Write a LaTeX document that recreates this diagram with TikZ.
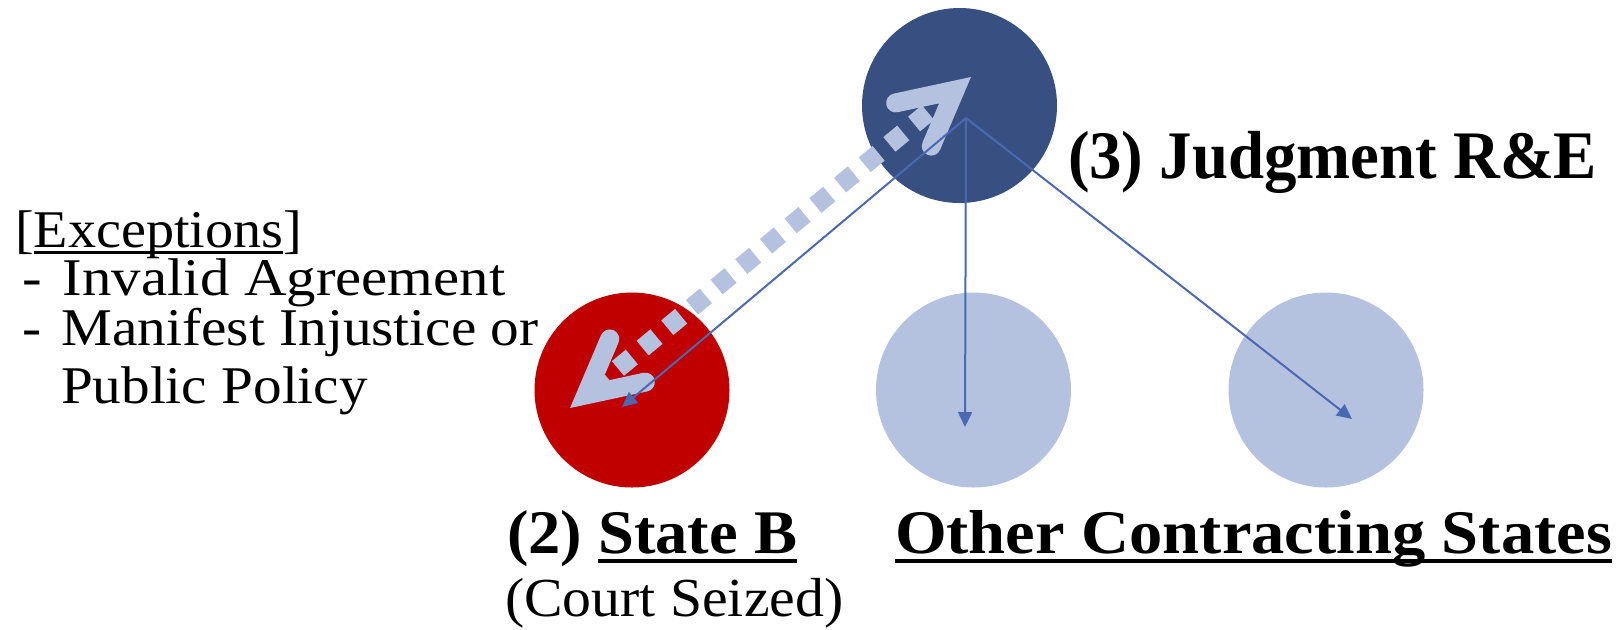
\documentclass[tikz,border=0pt]{standalone}
\usepackage{fontspec}
\setmainfont{Liberation Serif}
\usetikzlibrary{arrows.meta,calc}

\definecolor{navy}{HTML}{384F82}
\definecolor{seized}{HTML}{C00000}
\definecolor{pale}{HTML}{B4C2E0}
\definecolor{link}{HTML}{4A69B2}

% text with a rule drawn under it: #1 raise of the rule, #2 rule thickness, #3 text
\newcommand\rulebelow[3]{\setbox0\hbox{#3}\rlap{\rule[#1]{\wd0}{#2}}\box0}

\begin{document}
\begin{tikzpicture}[x=0.5pt,y=-0.5pt,
  disc/.style={circle, minimum size=97.5pt, inner sep=0pt, draw=none},
  label/.style={anchor=base west, inner sep=0pt, outer sep=0pt},
  bigbold/.style={label, font=\fontsize{31pt}{37pt}\selectfont\bfseries},
  titlebold/.style={label, font=\fontsize{34pt}{40pt}\selectfont\bfseries},
  plain/.style={label, font=\fontsize{27.5pt}{33pt}\selectfont},
  note/.style={label, font=\fontsize{26.5pt}{32pt}\selectfont},
  spread/.style={link, line width=1pt, -{Triangle[length=7.5pt,width=7pt]}},
  barb/.tip={Straight Barb[length=27pt,width=28pt,line cap=round,line join=miter]},
  appeal/.style={pale, line width=9.5pt, dash pattern=on 9pt off 7pt, barb-barb}
]
\useasboundingbox (0,0) rectangle (1621,629);

% states
\node[disc, fill=navy]   (judg)   at (959.5,105.5) {};
\node[disc, fill=seized] (stateB) at (632,390) {};
\node[disc, fill=pale]   (other1) at (973.5,390) {};
\node[disc, fill=pale]   (other2) at (1326,390) {};

% ends of the connectors
\coordinate (dotA) at ($(stateB.center)+(-62,18)$);
\coordinate (dotB) at ($(judg.center)+(11.5,-28.5)$);
\coordinate (hub)  at ($(judg.center)+(6.5,12.5)$);
\coordinate (tB)   at ($(stateB.center)+(-10,17)$);
\coordinate (t1)   at ($(other1.center)+(-8.5,37)$);
\coordinate (t2)   at ($(other2.center)+(26,29)$);

% review of the judgment in State B
\draw[appeal] (dotA) -- (dotB);

% recognition and enforcement
\draw[spread] (hub) -- (tB);
\draw[spread] (hub) -- (t1);
\draw[spread] (hub) -- (t2);

% labels
\node[titlebold] (tjudg) at (1068,178) {\scalebox{0.953}[1]{(3) Judgment R\&E}};
\node[bigbold] (tstate) at (507,553) {\scalebox{1.04}[1]{(2) \rulebelow{-5pt}{2pt}{State B}}};
\node[plain] (tcourt) at (505,616) {\scalebox{1.05}[1]{(Court Seized)}};
\node[bigbold] (tother) at (895,553) {\scalebox{1.073}[1]{\rulebelow{-5pt}{1.8pt}{Other Contracting States}}};

\node[note] (ex0) at (15,247) {\scalebox{1.06}[1]{[\rulebelow{-3.5pt}{1.3pt}{Exceptions}]}};
\node[note] (ex1) at (22,295) {\scalebox{1.11}[1]{-\hspace{0.36em}Invalid Agreement}};
\node[note] (ex2) at (22,345) {\scalebox{1.08}[1]{-\hspace{0.36em}Manifest Injustice or}};
\node[note] (ex3) at (61,403) {\scalebox{1.08}[1]{Public Policy}};
\end{tikzpicture}
\end{document}
